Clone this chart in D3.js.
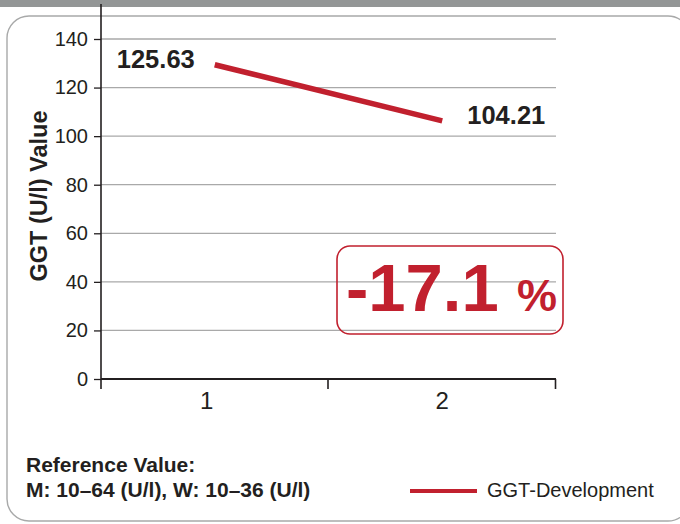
<!DOCTYPE html>
<html>
<head>
<meta charset="utf-8">
<script src="https://cdn.jsdelivr.net/npm/d3@7"></script>
<style>
  html, body { margin: 0; padding: 0; background: #fff; }
  svg { display: block; font-family: "Liberation Sans", Arial, Helvetica, sans-serif; }
</style>
</head>
<body>
<svg id="chart" width="680" height="524"></svg>
<script>
// ---- data ----
const categories = ["1", "2"];
const lineValues = [129.4, 106.3];          // plotted line as drawn in the picture
const valueLabels = ["125.63", "104.21"];   // printed values
const yTicks = [0, 20, 40, 60, 80, 100, 120, 140];
const seriesName = "GGT-Development";
const changeLabel = "-17.1";
const changeUnit = "%";
const yTitle = "GGT (U/l) Value";
const refLines = ["Reference Value:", "M: 10–64 (U/l), W: 10–36 (U/l)"];

// ---- layout ----
const red = "#c1202e";
const ink = "#231f20";
const svg = d3.select("#chart");

// top gray band
svg.append("rect").attr("x", 0).attr("y", 0).attr("width", 680).attr("height", 7).attr("fill", "#939696");

// rounded frame
svg.append("rect").attr("x", 7).attr("y", 16).attr("width", 683).attr("height", 505)
  .attr("rx", 22).attr("ry", 22).attr("fill", "none").attr("stroke", "#a8a9a9").attr("stroke-width", 1.4);

const x = d3.scaleBand().domain(categories).range([101, 556]).padding(0);
const y = d3.scaleLinear().domain([0, 140]).range([379, 39]);

// gridlines
svg.append("g").selectAll("line").data(yTicks.filter(d => d > 0)).join("line")
  .attr("x1", 101).attr("x2", 556)
  .attr("y1", d => y(d)).attr("y2", d => y(d))
  .attr("stroke", "#a9a9a9").attr("stroke-width", 1.3);

// y axis
const yAxis = svg.append("g").attr("transform", "translate(101,0)")
  .call(d3.axisLeft(y).tickValues(yTicks).tickSize(7).tickPadding(6));
yAxis.select(".domain").remove();
yAxis.selectAll(".tick line").attr("stroke", ink).attr("stroke-width", 1.3);
yAxis.selectAll(".tick text").attr("fill", ink).attr("font-size", 20)
  .attr("font-family", "'Liberation Sans', Arial, sans-serif").attr("font-weight", 300);
svg.append("line").attr("x1", 101).attr("x2", 101).attr("y1", 4).attr("y2", 389)
  .attr("stroke", ink).attr("stroke-width", 1.6);

// x axis
svg.append("line").attr("x1", 101).attr("x2", 556).attr("y1", y(0)).attr("y2", y(0))
  .attr("stroke", ink).attr("stroke-width", 2.2);
const xBounds = [x.range()[0]].concat(categories.map(c => x(c) + x.bandwidth()));
svg.append("g").selectAll("line").data(xBounds.slice(1)).join("line")
  .attr("x1", d => d - 0.5).attr("x2", d => d - 0.5).attr("y1", y(0)).attr("y2", y(0) + 10)
  .attr("stroke", ink).attr("stroke-width", 1.6);
const xLabelShift = [-8, 0];
svg.append("g").selectAll("text").data(categories).join("text")
  .attr("x", (d, i) => x(d) + x.bandwidth() / 2 + xLabelShift[i]).attr("y", 409)
  .attr("text-anchor", "middle").attr("font-size", 24).attr("fill", ink)
  .text(d => d);

// y title
svg.append("text")
  .attr("transform", "translate(47,196) rotate(-90)")
  .attr("text-anchor", "middle").attr("font-size", 23.5).attr("font-weight", "bold").attr("fill", ink)
  .text(yTitle);

// line
const line = d3.line()
  .x((d, i) => x(categories[i]) + x.bandwidth() / 2)
  .y(d => y(d));
svg.append("path").datum(lineValues).attr("d", line)
  .attr("fill", "none").attr("stroke", red).attr("stroke-width", 5.5);

// value labels
const labelOffsets = [{dx: -98, dy: 3}, {dx: 25, dy: 3}];
svg.append("g").selectAll("text").data(valueLabels).join("text")
  .attr("x", (d, i) => x(categories[i]) + x.bandwidth() / 2 + labelOffsets[i].dx)
  .attr("y", (d, i) => y(lineValues[i]) + labelOffsets[i].dy)
  .attr("font-size", 25.5).attr("font-weight", "bold").attr("fill", ink)
  .text(d => d);

// change box
svg.append("rect").attr("x", 337).attr("y", 246).attr("width", 226).attr("height", 88)
  .attr("rx", 13).attr("ry", 13).attr("fill", "none").attr("stroke", red).attr("stroke-width", 1.6);
svg.append("text").attr("x", 346).attr("y", 311).attr("font-size", 67).attr("font-weight", "bold")
  .attr("fill", red).text(changeLabel);
svg.append("text").attr("x", 557).attr("y", 311).attr("text-anchor", "end").attr("font-size", 45)
  .attr("font-weight", "bold").attr("fill", red).text(changeUnit);

// reference value text
svg.append("g").selectAll("text").data(refLines).join("text")
  .attr("x", 26).attr("y", (d, i) => 472 + i * 25)
  .attr("font-size", 21).attr("font-weight", "bold").attr("fill", ink)
  .text(d => d);

// legend
svg.append("line").attr("x1", 410).attr("x2", 477).attr("y1", 491).attr("y2", 491)
  .attr("stroke", red).attr("stroke-width", 4);
svg.append("text").attr("x", 487).attr("y", 497).attr("font-size", 20).attr("fill", ink).text(seriesName);
</script>
</body>
</html>
